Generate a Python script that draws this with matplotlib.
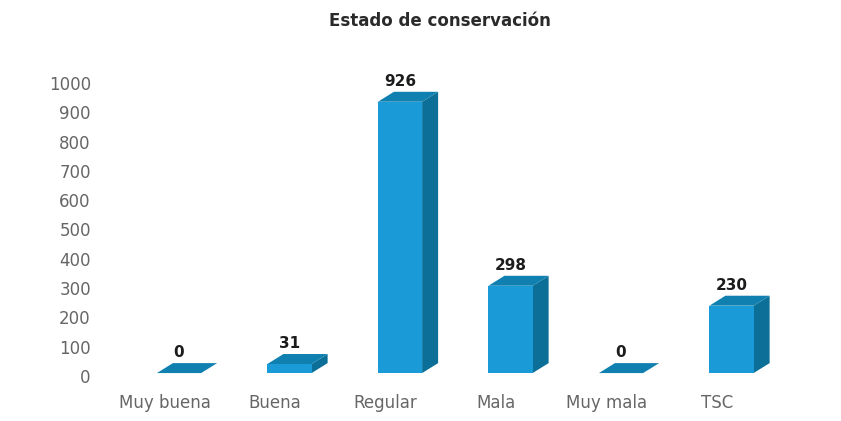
import numpy as np
import matplotlib
matplotlib.use('Agg')
import matplotlib.pyplot as plt
from matplotlib.patches import Polygon

# Datos
categorias = ['Muy buena', 'Buena', 'Regular', 'Mala', 'Muy mala', 'TSC']
valores = [0, 31, 926, 298, 0, 230]
marcas_y = [0, 100, 200, 300, 400, 500, 600, 700, 800, 900, 1000]

# Estilo de las barras
ancho = 0.40
prof_x = 0.145
prof_y = 34
base = 10
col_frente = '#1b9ad8'
col_lado = '#0b6f97'
col_tapa = '#1080b0'

W, H = 841, 421
fig = plt.figure(figsize=(W / 100, H / 100), dpi=100)
# 0 en y=376 px y 1000 en y=83 px
ax = fig.add_axes([95 / W, (H - 376) / H, 695 / W, 293 / H])
ax.set_xlim((95 - 179) / 110.5, (790 - 179) / 110.5)
ax.set_ylim(0, 1000)

x = np.arange(len(categorias))

for xi, v in zip(x, valores):
    izq = xi - ancho / 2
    der = xi + ancho / 2
    top = base + v
    # cara frontal, lateral y superior
    ax.add_patch(Polygon([(izq, base), (der, base), (der, top), (izq, top)],
                         fc=col_frente, ec='none', clip_on=False, zorder=3))
    ax.add_patch(Polygon([(der, base), (der + prof_x, base + prof_y),
                          (der + prof_x, top + prof_y), (der, top)],
                         fc=col_lado, ec='none', clip_on=False, zorder=2))
    ax.add_patch(Polygon([(izq, top), (der, top),
                          (der + prof_x, top + prof_y), (izq + prof_x, top + prof_y)],
                         fc=col_tapa, ec='none', clip_on=False, zorder=4))
    ax.annotate(str(v), (xi, top + prof_y), xytext=(0, 2), textcoords='offset points',
                ha='center', va='bottom', fontsize=11, fontweight='bold',
                color='#1c1c1c', annotation_clip=False)

ax.set_yticks(marcas_y)
ax.set_xticks(x - 0.13)
ax.set_xticklabels(categorias)
ax.tick_params(axis='both', length=0, labelsize=12, labelcolor='#666666')
ax.tick_params(axis='x', pad=13)
ax.tick_params(axis='y', pad=3)
for s in ax.spines.values():
    s.set_visible(False)

fig.text(440 / W, 1 - 21 / H, 'Estado de conservación', ha='center', va='center',
         fontsize=12, fontweight='bold', color='#2a2a2a')

fig.savefig('out.png', dpi=100)
